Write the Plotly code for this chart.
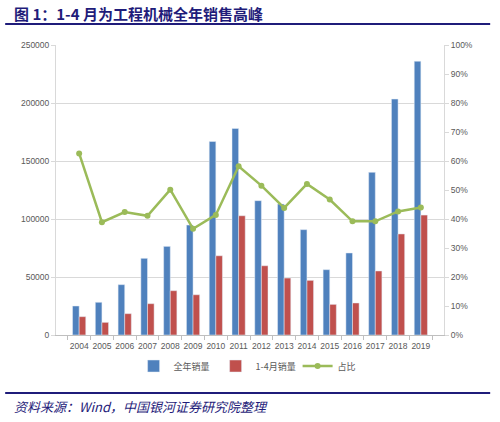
import plotly.graph_objects as go

years = ['2004', '2005', '2006', '2007', '2008', '2009', '2010', '2011',
         '2012', '2013', '2014', '2015', '2016', '2017', '2018', '2019']
# 全年销量 (units)
full_year = [25000, 28200, 43400, 66100, 76400, 94800, 166800, 178000,
             115800, 112900, 90800, 56300, 70700, 140200, 203400, 236000]
# 1-4月销量 (units)
jan_apr = [15800, 10900, 18400, 27000, 38200, 34700, 68300, 102800,
           59700, 49100, 47100, 26400, 27600, 55200, 87100, 103400]
# 占比
share = [0.626, 0.389, 0.424, 0.411, 0.501, 0.366, 0.414, 0.582,
         0.515, 0.438, 0.521, 0.467, 0.392, 0.392, 0.426, 0.440]

BLUE = '#4F81BD'
RED = '#C0504D'
GREEN = '#9BBB59'
NAVY = '#1F1C7A'
TICK = '#595959'
tick_font = dict(family='Liberation Sans, Noto Sans CJK SC', size=8.5, color=TICK)

fig = go.Figure()
fig.add_trace(go.Bar(x=years, y=full_year, name='全年销量',
                     marker_color=BLUE, yaxis='y'))
fig.add_trace(go.Bar(x=years, y=jan_apr, name='1-4月销量',
                     marker_color=RED, yaxis='y'))
fig.add_trace(go.Scatter(x=years, y=share, name='占比', yaxis='y2',
                         mode='lines+markers',
                         line=dict(color=GREEN, width=2.5),
                         marker=dict(color=GREEN, size=6)))

fig.update_layout(
    width=500, height=422,
    margin=dict(l=56, r=56, t=45, b=87),
    paper_bgcolor='white', plot_bgcolor='white',
    barmode='group', bargap=0.42, bargroupgap=0,
    font=dict(family='Noto Sans CJK SC', size=9, color=TICK),
    xaxis=dict(type='category', showline=True, linecolor='#BFBFBF',
               ticks='outside', tickson='boundaries', ticklen=4,
               tickcolor='#BFBFBF', tickfont=tick_font, showgrid=False,
               tickangle=0, automargin=False, ticklabelstandoff=3),
    yaxis=dict(range=[0, 250000], dtick=50000, tickformat='d', showgrid=True,
               gridcolor='#D9D9D9', showline=True, linecolor='#D9D9D9',
               ticks='outside', ticklen=4, tickcolor='#D9D9D9',
               tickfont=tick_font, zeroline=False, automargin=False),
    yaxis2=dict(range=[0, 1], dtick=0.1, tickformat='.0%', overlaying='y',
                side='right', showgrid=False, showline=True,
                linecolor='#D9D9D9', ticks='outside', ticklen=4,
                tickcolor='#D9D9D9', tickfont=tick_font, zeroline=False,
                automargin=False),
    legend=dict(orientation='h', x=0.2, xanchor='left', y=-0.107,
                yanchor='middle', font=dict(size=9, color=TICK),
                itemwidth=30, entrywidth=37, entrywidthmode='pixels',
                tracegroupgap=0),
    showlegend=True,
)

# title and source note
fig.add_annotation(text='<b>图 1：1-4 月为工程机械全年销售高峰</b>',
                   xref='paper', yref='paper', x=-0.113, y=1.107,
                   xanchor='left', yanchor='middle', showarrow=False,
                   font=dict(family='Noto Sans CJK SC', size=15, color=NAVY))
fig.add_annotation(text='<i>资料来源：Wind，中国银河证券研究院整理</i>',
                   xref='paper', yref='paper', x=-0.113, y=-0.248,
                   xanchor='left', yanchor='middle', showarrow=False,
                   font=dict(family='Noto Sans CJK SC', size=13, color=NAVY))
fig.add_shape(type='line', xref='paper', yref='paper',
              x0=-0.131, x1=1.119, y0=1.072, y1=1.072,
              line=dict(color=NAVY, width=2))
fig.add_shape(type='line', xref='paper', yref='paper',
              x0=-0.131, x1=1.119, y0=-0.2, y1=-0.2,
              line=dict(color=NAVY, width=2))

# page body has a default 8px margin; drop it so the figure fills the window
fig.write_html('out.html', config={'displayModeBar': False},
               post_script="document.body.style.margin='0';")
